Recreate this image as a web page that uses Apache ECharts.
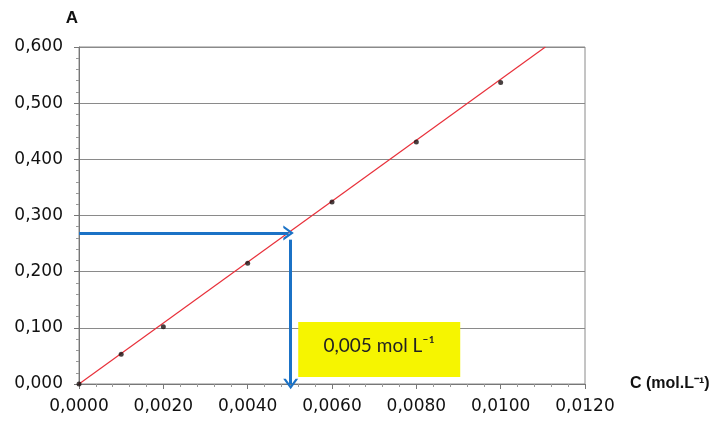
<!DOCTYPE html>
<html>
<head>
<meta charset="utf-8">
<script src="https://cdn.jsdelivr.net/npm/echarts@6/dist/echarts.min.js"></script>
<style>html,body{margin:0;padding:0;background:#fff}#c{width:714px;height:424px}</style>
</head>
<body>
<div id="c"></div>
<script>
// Data
const concentrations = [0, 0.001, 0.002, 0.004, 0.006, 0.008, 0.010];
const absorbances = [0, 0.053, 0.102, 0.215, 0.324, 0.431, 0.537];
const fitC = [0, 0.01106];
const fitA = [0, 0.600];
const readC = 0.005;
const readA = 0.269;
const annotationText = '0,005 mol L⁻¹';
const xTicks = [0, 0.002, 0.004, 0.006, 0.008, 0.010, 0.012];
const yTicks = [0, 0.1, 0.2, 0.3, 0.4, 0.5, 0.6];

const points = concentrations.map((c, i) => [c, absorbances[i]]);
const fit = fitC.map((c, i) => [c, fitA[i]]);
const blue = '#1b72c6';

const chart = echarts.init(document.getElementById('c'), null, {renderer: 'canvas'});
chart.setOption({
  animation: false,
  grid: {left: 79, right: 129, top: 47, bottom: 40, show: true, borderColor: '#8a8a8a', borderWidth: 1, backgroundColor: 'transparent'},
  xAxis: {
    type: 'value', min: xTicks[0], max: xTicks[xTicks.length - 1], interval: 0.002,
    name: 'C (mol.L⁻¹)', nameLocation: 'end', nameGap: 45,
    nameTextStyle: {fontFamily: 'Liberation Sans', fontWeight: 'bold', fontSize: 16, color: '#111', padding: [0, 0, 22, 0]},
    axisLine: {lineStyle: {color: '#777', width: 1}},
    axisTick: {show: true, length: 5, inside: false, lineStyle: {color: '#777'}},
    minorTick: {show: true, splitNumber: 5, length: 3, lineStyle: {color: '#999'}},
    splitLine: {show: false},
    axisLabel: {fontFamily: 'DejaVu Sans', fontSize: 17, color: '#111', margin: 14,
      formatter: v => v.toFixed(4).replace('.', ',')}
  },
  yAxis: {
    type: 'value', min: yTicks[0], max: yTicks[yTicks.length - 1], interval: 0.1,
    name: 'A', nameLocation: 'end', nameGap: 20,
    nameTextStyle: {fontFamily: 'Liberation Sans', fontWeight: 'bold', fontSize: 17, color: '#111', padding: [0, 14, 0, 0]},
    axisLine: {show: true, lineStyle: {color: '#777', width: 1}},
    axisTick: {show: true, length: 5, lineStyle: {color: '#777'}},
    minorTick: {show: true, splitNumber: 5, length: 3, lineStyle: {color: '#999'}},
    splitLine: {show: true, lineStyle: {color: '#8a8a8a', width: 1}},
    axisLabel: {fontFamily: 'DejaVu Sans', fontSize: 17, color: '#111', margin: 16,
      formatter: v => v.toFixed(3).replace('.', ',')}
  },
  series: [
    {
      type: 'line', data: fit, symbol: 'none', silent: true,
      lineStyle: {color: '#e8303a', width: 1.2}, z: 3
    },
    {
      type: 'scatter', data: points, symbol: 'circle', symbolSize: 5,
      itemStyle: {color: '#1a1010'}, z: 4, silent: true,
      markLine: {
        silent: true, symbol: ['none', 'path://M0,14 L10,0 L20,14 L16.5,14 L10,5 L3.5,14 Z'], symbolSize: 15,
        symbolKeepAspect: true,
        label: {show: false},
        lineStyle: {color: blue, width: 3, type: 'solid'},
        itemStyle: {color: blue},
        emphasis: {disabled: true},
        data: [
          [{coord: [0, readA]}, {coord: [readC - 0.00003, readA]}],
          [{coord: [readC + 0.00002, readA - 0.012]}, {coord: [readC + 0.00002, 0]}]
        ]
      },
      markPoint: {
        silent: true, symbol: 'rect', symbolSize: [162, 55],
        itemStyle: {color: '#f6f500'},
        label: {show: true, position: 'inside', offset: [0, -4], formatter: annotationText,
          fontFamily: 'Lato', fontSize: 19, color: '#222'},
        data: [{coord: [0.00712, 0.0614]}]
      }
    }
  ]
});
</script>
</body>
</html>
